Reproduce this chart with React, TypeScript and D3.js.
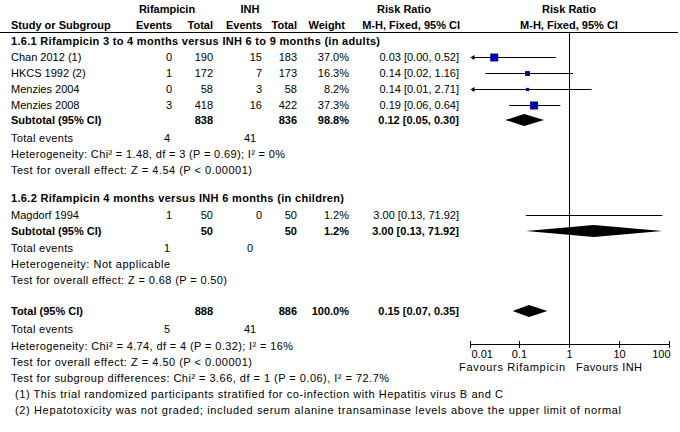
import React from "react";
import * as d3 from "d3";

// ---------- data ----------
const studyNames = ["Chan 2012 (1)", "HKCS 1992 (2)", "Menzies 2004", "Menzies 2008", "Magdorf 1994"];
const rifEvents = [0, 1, 0, 3, 1];
const rifTotals = [190, 172, 58, 418, 50];
const inhEvents = [15, 7, 3, 16, 0];
const inhTotals = [183, 173, 58, 422, 50];
const weights = [37.0, 16.3, 8.2, 37.3, 1.2];
const riskRatios = [0.03, 0.14, 0.14, 0.19, 3.0];
const ciLower = [0.0, 0.02, 0.01, 0.06, 0.13];
const ciUpper = [0.52, 1.16, 2.71, 0.64, 71.92];

const groupTitles = [
  "1.6.1 Rifampicin 3 to 4 months versus INH 6 to 9 months (in adults)",
  "1.6.2 Rifampicin 4 months versus INH 6 months (in children)",
];
const summaryLabels = ["Subtotal (95% CI)", "Subtotal (95% CI)", "Total (95% CI)"];
const summaryRifTotal = [838, 50, 888];
const summaryInhTotal = [836, 50, 886];
const summaryWeight = [98.8, 1.2, 100.0];
const summaryRR = [0.12, 3.0, 0.15];
const summaryLo = [0.05, 0.13, 0.07];
const summaryHi = [0.3, 71.92, 0.35];
const totalEventsRif = [4, 1, 5];
const totalEventsInh = [41, 0, 41];
const heterogeneityTexts = [
  "Heterogeneity: Chi² = 1.48, df = 3 (P = 0.69); I² = 0%",
  "Heterogeneity: Not applicable",
  "Heterogeneity: Chi² = 4.74, df = 4 (P = 0.32); I² = 16%",
];
const overallEffectTexts = [
  "Test for overall effect: Z = 4.54 (P < 0.00001)",
  "Test for overall effect: Z = 0.68 (P = 0.50)",
  "Test for overall effect: Z = 4.50 (P < 0.00001)",
];
const subgroupDiffText = "Test for subgroup differences: Chi² = 3.66, df = 1 (P = 0.06), I² = 72.7%";
const footnotes = [
  "(1) This trial randomized participants stratified for co-infection with Hepatitis virus B and C",
  "(2) Hepatotoxicity was not graded; included serum alanine transaminase levels above the upper limit of normal",
];
const axisTicks = [0.01, 0.1, 1, 10, 100];
const favoursLeft = "Favours Rifampicin";
const favoursRight = "Favours INH";

// ---------- layout ----------
const W = 680, H = 432;
const FONT = "Arial, 'Liberation Sans', Helvetica, sans-serif";
const FS = 11;
const BLUE = "#0000A8";

const xCol = { label: 11, rifEv: 172, rifTot: 213, inhEv: 262, inhTot: 297, weight: 349, ci: 459 };
const rifCenter = 167, inhCenter = 250;

const x = d3.scaleLog().domain([0.01, 100]).range([470.5, 669.5]);
const sq = d3.scalePow().exponent(0.6).domain([0, 37.3]).range([0, 8]);

const studyRowY = [56.5, 72.5, 88.5, 104.5, 215];
const groupTitleY = [41, 198];
const summaryY = [120, 231, 311];
const totalEventsY = [137.5, 248, 329];
const hetY = [154, 264, 346];
const effectY = [170, 280, 362];
const subDiffY = 378;
const footY = [394, 410];
const axisY = 344;

// rendered widths of long text lines (layout, to match the reference's hinted font)
const groupTitleWidths = [369, 333];
const hetWidths = [274, 159, 282];
const effectWidths = [241, 216, 241];
const subDiffWidth = 378;
const footWidths = [488, 606];
const totalEventsWidth = 62;

const fmtCI = (r: number, l: number, h: number) =>
  `${r.toFixed(2)} [${l.toFixed(2)}, ${h.toFixed(2)}]`;

function T({ x: tx, y, anchor = "start", bold = false, len, children }: any) {
  return (
    <text x={tx} y={y + 4} textAnchor={anchor} fontWeight={bold ? "bold" : "normal"}
      fontSize={FS} fontFamily={FONT} fill="#000"
      {...(len ? { textLength: len, lengthAdjust: "spacing" } : {})}>
      {children}
    </text>
  );
}

export default function App() {
  const x1 = x(1);
  const minX = x(0.01);
  const maxX = x(100);
  const vx = Math.round(x1) - 0.5;
  return (
    <svg width={W} height={H} style={{ position: "absolute", left: 0, top: 0, background: "#fff" }}>
      <rect width={W} height={H} fill="#fff" />
      {/* headers */}
      <T x={rifCenter} y={9} anchor="middle" bold>Rifampicin</T>
      <T x={inhCenter} y={9} anchor="middle" bold>INH</T>
      <T x={404} y={9} anchor="middle" bold>Risk Ratio</T>
      <T x={569} y={9} anchor="middle" bold>Risk Ratio</T>
      <T x={xCol.label} y={25} bold>Study or Subgroup</T>
      <T x={xCol.rifEv} y={25} anchor="end" bold>Events</T>
      <T x={xCol.rifTot} y={25} anchor="end" bold>Total</T>
      <T x={xCol.inhEv} y={25} anchor="end" bold>Events</T>
      <T x={xCol.inhTot} y={25} anchor="end" bold>Total</T>
      <T x={345} y={25} anchor="end" bold>Weight</T>
      <T x={460} y={25} anchor="end" bold>M-H, Fixed, 95% CI</T>
      <T x={569} y={25} anchor="middle" bold>M-H, Fixed, 95% CI</T>
      <line x1={0} x2={678} y1={32.5} y2={32.5} stroke="#000" strokeWidth={1} />

      {/* vertical line of no effect */}
      <line x1={vx} x2={vx} y1={32} y2={axisY} stroke="#000" strokeWidth={1} />

      {/* group titles */}
      {groupTitles.map((g, i) => (
        <T key={g} x={xCol.label} y={groupTitleY[i]} bold len={groupTitleWidths[i]}>{g}</T>
      ))}

      {/* study rows */}
      {studyNames.map((name, i) => {
        const y = studyRowY[i];
        const ly = Math.round(y) + 0.5;
        const lowArrow = ciLower[i] <= 0.01;
        const highArrow = ciUpper[i] >= 100;
        const lx = lowArrow ? minX + 1 : x(ciLower[i]);
        const hx = highArrow ? maxX - 1 : x(ciUpper[i]);
        const s = sq(weights[i]);
        const cx = x(riskRatios[i]);
        return (
          <g key={name}>
            <T x={xCol.label} y={y}>{name}</T>
            <T x={xCol.rifEv} y={y} anchor="end">{rifEvents[i]}</T>
            <T x={xCol.rifTot} y={y} anchor="end">{rifTotals[i]}</T>
            <T x={xCol.inhEv} y={y} anchor="end">{inhEvents[i]}</T>
            <T x={xCol.inhTot} y={y} anchor="end">{inhTotals[i]}</T>
            <T x={xCol.weight} y={y} anchor="end">{weights[i].toFixed(1)}%</T>
            <T x={xCol.ci} y={y} anchor="end">{fmtCI(riskRatios[i], ciLower[i], ciUpper[i])}</T>
            <line x1={lx} x2={hx} y1={ly} y2={ly} stroke="#000" strokeWidth={1} />
            {lowArrow && (
              <path d={`M${minX},${ly} L${minX + 4},${ly - 2.5} L${minX + 4},${ly + 2.5} Z`} fill="#000" />
            )}
            <rect x={cx - s / 2} y={ly - s / 2} width={s} height={s} fill={BLUE} />
          </g>
        );
      })}

      {/* summary rows */}
      {summaryLabels.map((lab, i) => {
        const y = summaryY[i];
        const h = 6;
        const pts = [
          [x(summaryLo[i]), y],
          [x(summaryRR[i]), y - h],
          [x(summaryHi[i]), y],
          [x(summaryRR[i]), y + h],
        ];
        return (
          <g key={"s" + i}>
            <T x={xCol.label} y={y} bold>{lab}</T>
            <T x={xCol.rifTot} y={y} anchor="end" bold>{summaryRifTotal[i]}</T>
            <T x={xCol.inhTot} y={y} anchor="end" bold>{summaryInhTotal[i]}</T>
            <T x={xCol.weight} y={y} anchor="end" bold>{summaryWeight[i].toFixed(1)}%</T>
            <T x={xCol.ci} y={y} anchor="end" bold>{fmtCI(summaryRR[i], summaryLo[i], summaryHi[i])}</T>
            <polygon points={pts.map((p) => p.join(",")).join(" ")} fill="#000" />
            <T x={xCol.label} y={totalEventsY[i]} len={totalEventsWidth}>Total events</T>
            <T x={rifCenter} y={totalEventsY[i]} anchor="middle">{totalEventsRif[i]}</T>
            <T x={inhCenter} y={totalEventsY[i]} anchor="middle">{totalEventsInh[i]}</T>
            <T x={xCol.label} y={hetY[i]} len={hetWidths[i]}>{heterogeneityTexts[i]}</T>
            <T x={xCol.label} y={effectY[i]} len={effectWidths[i]}>{overallEffectTexts[i]}</T>
          </g>
        );
      })}

      <T x={xCol.label} y={subDiffY} len={subDiffWidth}>{subgroupDiffText}</T>
      {footnotes.map((f, i) => (
        <T key={i} x={15} y={footY[i]} len={footWidths[i]}>{f}</T>
      ))}

      {/* axis */}
      <line x1={minX} x2={maxX} y1={axisY + 0.5} y2={axisY + 0.5} stroke="#000" strokeWidth={1} />
      {axisTicks.map((t, i) => {
        const tx = Math.round(x(t)) - 0.5;
        const anchor = i === 0 ? "start" : i === axisTicks.length - 1 ? "end" : "middle";
        const lx = i === 0 ? tx + 1 : i === axisTicks.length - 1 ? tx + 1 : tx;
        return (
          <g key={t}>
            <line x1={tx} x2={tx} y1={axisY - 3} y2={axisY + 4} stroke="#000" strokeWidth={1} />
            <T x={lx} y={axisY + 10} anchor={anchor}>{String(t)}</T>
          </g>
        );
      })}
      <T x={x1 - 5} y={axisY + 23} anchor="end" len={106}>{favoursLeft}</T>
      <T x={x1 + 6} y={axisY + 23} len={66}>{favoursRight}</T>
    </svg>
  );
}
